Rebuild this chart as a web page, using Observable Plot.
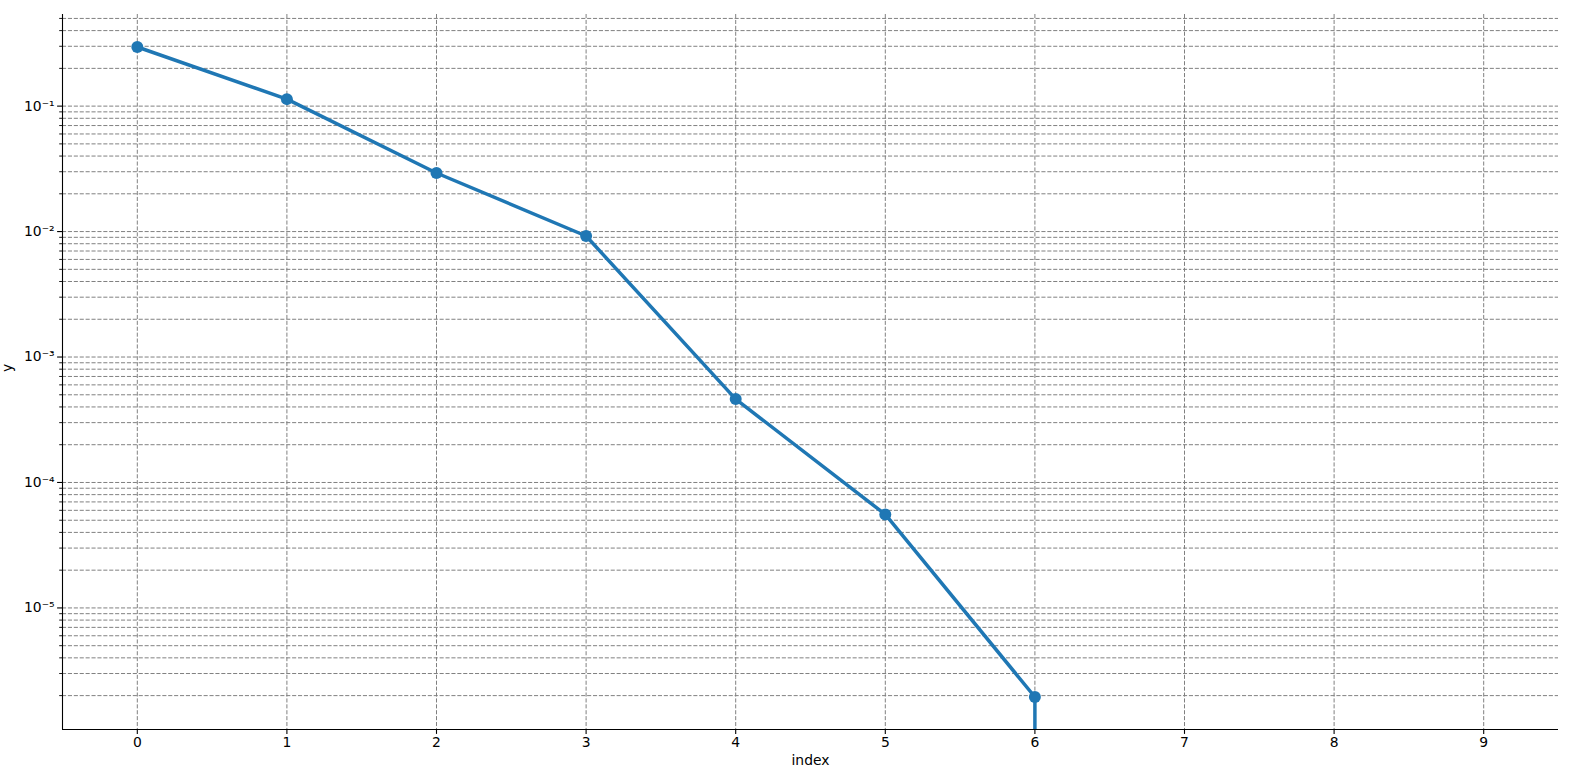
<!DOCTYPE html>
<html>
<head>
<meta charset="utf-8">
<script src="https://cdn.jsdelivr.net/npm/d3@7"></script>
<script src="https://cdn.jsdelivr.net/npm/@observablehq/plot@0.6"></script>
<style>
  html, body { margin: 0; padding: 0; background: #fff; overflow: hidden; }
  #chart svg { display: block; max-width: none !important; }
</style>
</head>
<body>
<div id="chart"></div>
<script>
// ---- data ----
const indexValues = [0, 1, 2, 3, 4, 5, 6, 7, 8, 9];
const yValues = [0.296, 0.1137, 0.0293, 0.00922, 0.000462, 0.0000556, 0.00000195, 0, 0, 0];
const xTicks = [0, 1, 2, 3, 4, 5, 6, 7, 8, 9];
const yMajorExponents = [-5, -4, -3, -2, -1];
const supers = {"-": "⁻", "0": "⁰", "1": "¹", "2": "²", "3": "³", "4": "⁴", "5": "⁵", "6": "⁶", "7": "⁷", "8": "⁸", "9": "⁹"};

const rows = indexValues.map((x, i) => ({x, y: yValues[i]}));
const positive = rows.filter(d => d.y > 0);

// matplotlib-like autoscale with 5% margins in log space
const lmin = Math.log10(d3.min(positive, d => d.y));
const lmax = Math.log10(d3.max(positive, d => d.y));
const pad = 0.05 * (lmax - lmin);
const yDomain = [Math.pow(10, lmin - pad), Math.pow(10, lmax + pad)];
const xDomain = [d3.min(indexValues) - 0.5, d3.max(indexValues) + 0.5];

const majorTicks = yMajorExponents.map(e => Math.pow(10, e));
const minorTicks = [];
for (let e = Math.floor(Math.log10(yDomain[0])); e <= Math.ceil(Math.log10(yDomain[1])); e++) {
  for (let m = 2; m <= 9; m++) {
    const v = m * Math.pow(10, e);
    if (v >= yDomain[0] && v <= yDomain[1]) minorTicks.push(v);
  }
}
const gridTicks = majorTicks.concat(minorTicks);

// drop segments: positive value followed by zero (log(0) -> -inf, clipped at bottom)
const drops = [];
for (let i = 0; i < rows.length - 1; i++) {
  if (rows[i].y > 0 && rows[i + 1].y <= 0) drops.push({x: rows[i].x, y1: rows[i].y, y2: yDomain[0]});
}

const fmt = v => {
  const e = Math.round(Math.log10(v));
  return "10" + String(e).split("").map(c => supers[c]).join("");
};

const blue = "#1f77b4";
const gridColor = "#808080";
const dash = "4.1,1.8";

const chart = Plot.plot({
  width: 1580,
  height: 778,
  marginLeft: 62,
  marginRight: 22,
  marginTop: 14,
  marginBottom: 49,
  style: {fontFamily: "'DejaVu Sans', sans-serif", fontSize: "13.9px", color: "#000", background: "#fff"},
  x: {domain: xDomain, label: null},
  y: {type: "log", domain: yDomain, label: null},
  marks: [
    Plot.gridX(xTicks, {stroke: gridColor, strokeOpacity: 1, strokeWidth: 1, strokeDasharray: dash}),
    Plot.gridY(gridTicks, {stroke: gridColor, strokeOpacity: 1, strokeWidth: 1, strokeDasharray: dash}),
    Plot.axisX(xTicks, {tickSize: 4.9, tickPadding: 3, tickFormat: d => String(d), stroke: "#000", strokeWidth: 1.1, fontSize: 13.9}),
    Plot.axisY(majorTicks, {tickSize: 4.9, tickPadding: 3, tickFormat: fmt, stroke: "#000", strokeWidth: 1.1, fontSize: 13.9}),
    Plot.axisY(minorTicks, {tickSize: 2.8, tickFormat: () => "", stroke: "#000", strokeWidth: 0.9}),
    Plot.ruleY([yDomain[0]], {stroke: "#000", strokeWidth: 1.1}),
    Plot.ruleX([xDomain[0]], {stroke: "#000", strokeWidth: 1.1}),
    Plot.line(positive, {x: "x", y: "y", stroke: blue, strokeWidth: 3.5}),
    Plot.ruleX(drops, {x: "x", y1: "y1", y2: "y2", stroke: blue, strokeWidth: 3.5}),
    Plot.dot(positive, {x: "x", y: "y", r: 6, fill: blue, stroke: null}),
    Plot.text(["index"], {frameAnchor: "bottom", dy: 35, fontSize: 13.9, fill: "#000"}),
    Plot.text(["y"], {frameAnchor: "left", dx: -55, rotate: -90, fontSize: 13.9, fill: "#000"})
  ]
});
document.getElementById("chart").appendChild(chart);
</script>
</body>
</html>
